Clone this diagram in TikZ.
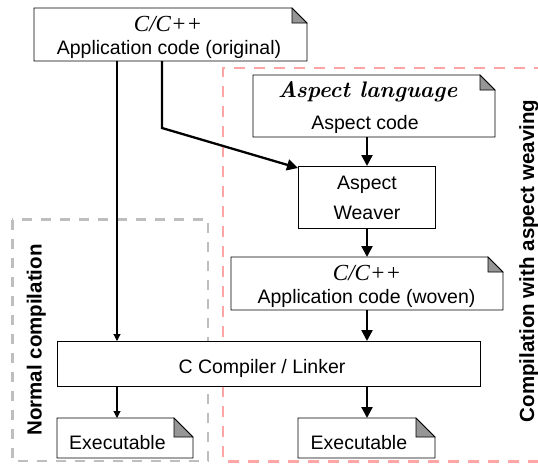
\documentclass[tikz,border=0pt]{standalone}
\usepackage{fontspec}
\newfontfamily\sansf{Liberation Sans}
\newfontfamily\serifit{Liberation Serif}
\usetikzlibrary{arrows.meta,calc}
\definecolor{dashgray}{RGB}{190,190,190}
\definecolor{dashred}{RGB}{255,165,165}
\definecolor{foldgray}{RGB}{150,150,150}
\newcommand\mysans{\sansf\fontsize{19.5}{30}\selectfont}
\newcommand\mylabel{\sansf\bfseries\fontsize{20.5}{24}\selectfont}
\newcommand\myital{\serifit\fontsize{23}{26}\selectfont\itshape}
\newcommand\mybital{\fontsize{22.5}{26}\selectfont\bfseries\itshape}
\newcommand\docoutline[2]{%
  \fill[white] (#1.north west) -- ([xshift=-#2]#1.north east) -- ([yshift=-#2]#1.north east) -- (#1.south east) -- (#1.south west) -- cycle;
  \filldraw[fill=foldgray, draw=black, line width=0.6pt] ([xshift=-#2]#1.north east) -- ([xshift=-#2,yshift=-#2]#1.north east) -- ([yshift=-#2]#1.north east) -- cycle;
  \draw[boxline] (#1.north west) -- ([xshift=-#2]#1.north east) -- ([yshift=-#2]#1.north east) -- (#1.south east) -- (#1.south west) -- cycle;
}
\tikzset{
  boxline/.style={draw=black, line width=0.9pt, line join=miter},
  area/.style={anchor=north west, inner sep=0pt, outer sep=0pt},
  plainbox/.style={area, boxline, fill=white},
  txt/.style={inner sep=0pt, anchor=base},
  thinarrow/.style={line width=1.1pt, -{Triangle[length=7pt,width=7pt]}},
  thickarrow/.style={line width=2.3pt, line join=miter, -{Triangle[length=11pt,width=11pt]}},
  grayframe/.style={draw=dashgray, line width=2.4pt, dash pattern=on 10pt off 9pt},
  redframe/.style={draw=dashred, line width=2.4pt, dash pattern=on 11pt off 9pt},
}
\begin{document}
\begin{tikzpicture}[x=1pt,y=-1pt]
\useasboundingbox (0,0) rectangle (538,464);
% dashed frames
\draw[grayframe] (12.3,219.5) rectangle (208,461);
\draw[redframe] (545,68) -- (223,68) -- (223,461.5) -- (545,461.5);
% frame labels
\node[txt, rotate=90, font=\mylabel] (lnormal) at (41.5,340) {Normal compilation};
\node[txt, rotate=90, font=\mylabel] (lweave) at (534,261) {Compilation with aspect weaving};
% boxes
\node[area, minimum width=273pt, minimum height=53pt] (orig) at (34,8) {};
\docoutline{orig}{15pt}
\node[area, minimum width=242pt, minimum height=62pt] (asp) at (253,75) {};
\docoutline{asp}{15pt}
\node[plainbox, minimum width=137pt, minimum height=62pt] (weaver) at (298,166) {};
\node[area, minimum width=272pt, minimum height=53pt] (woven) at (231,257) {};
\docoutline{woven}{15pt}
\node[plainbox, minimum width=423pt, minimum height=45pt] (comp) at (57,341) {};
\node[area, minimum width=136pt, minimum height=40pt] (exa) at (57,418) {};
\docoutline{exa}{19pt}
\node[area, minimum width=137pt, minimum height=40pt] (exb) at (298,418) {};
\docoutline{exb}{19pt}
% texts
\node[txt, font=\myital] (torig1) at (168,31.7) {C/C++};
\node[txt, font=\mysans] (torig2) at (169,54) {Application code (original)};
\node[txt, font=\mybital] (tasp1) at (367.5,97) {Aspect language};
\node[txt, font=\mysans] (tasp2) at (365,129) {Aspect code};
\node[txt, font=\mysans] (tw1) at (367,189) {Aspect};
\node[txt, font=\mysans] (tw2) at (367,219) {Weaver};
\node[txt, font=\myital] (twov1) at (367,280) {C/C++};
\node[txt, font=\mysans] (twov2) at (366.5,303) {Application code (woven)};
\node[txt, font=\mysans] (tcomp) at (262,373) {C Compiler / Linker};
\node[txt, anchor=base west, font=\mysans] (texa) at (69,449.5) {Executable};
\node[txt, anchor=base west, font=\mysans] (texb) at (310.5,449.5) {Executable};
% connectors
\coordinate (thin) at (117,0);
\coordinate (main) at (367,0);
\coordinate (bend) at (162,128);
\draw[thinarrow] (orig.south -| thin) -- (comp.north -| thin);
\draw[thinarrow] (comp.south -| thin) -- (exa.north -| thin);
\draw[thickarrow] (orig.south -| bend) -- (bend) -- ([yshift=-2pt]weaver.north west);
\draw[thickarrow] (asp.south -| main) -- (weaver.north -| main);
\draw[thickarrow] (weaver.south -| main) -- (woven.north -| main);
\draw[thickarrow] (woven.south -| main) -- (comp.north -| main);
\draw[thickarrow] (comp.south -| main) -- (exb.north -| main);
\end{tikzpicture}
\end{document}
